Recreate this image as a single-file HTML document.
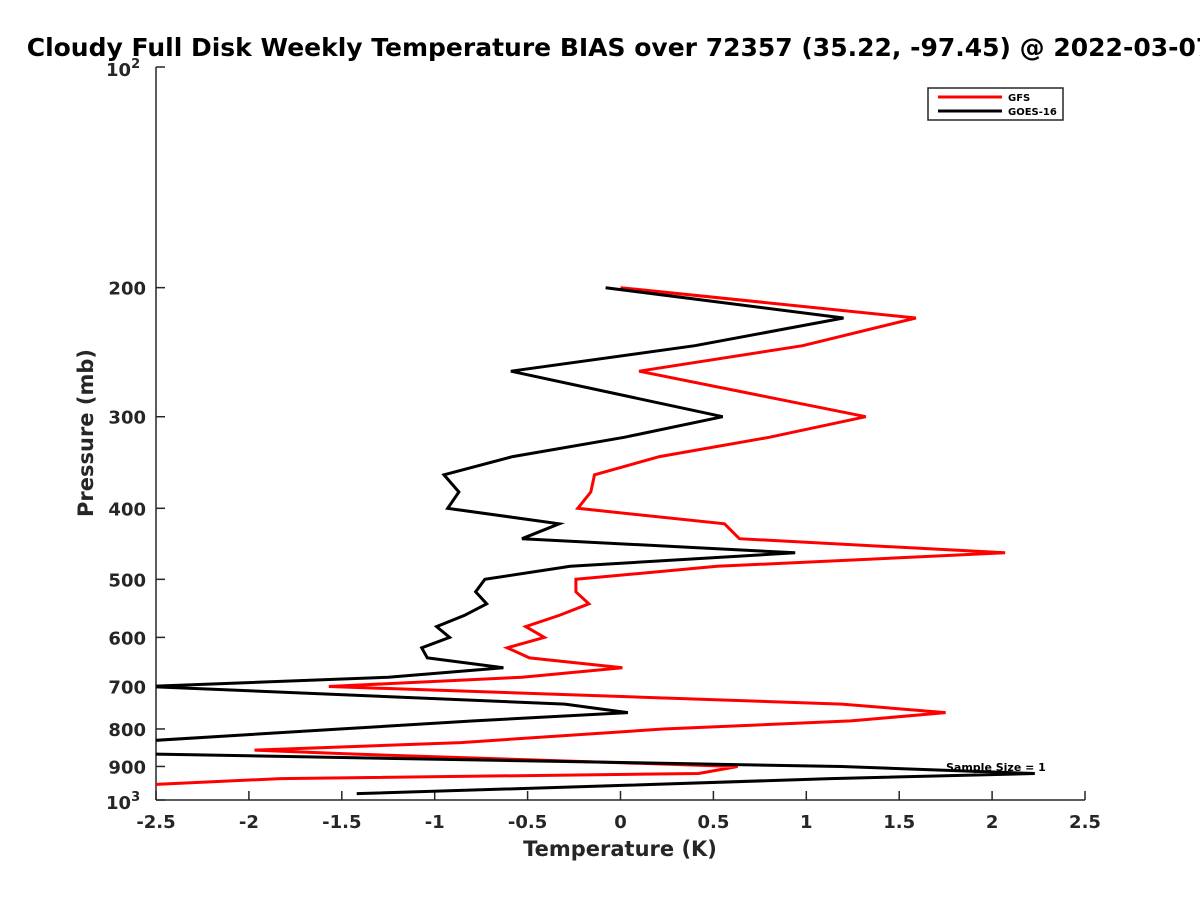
<!DOCTYPE html>
<html><head><meta charset="utf-8"><style>
body{margin:0;background:#fff;overflow:hidden;}
svg{display:block;font-family:"DejaVu Sans","Liberation Sans",sans-serif;}
</style></head><body>
<svg id="chart" width="1200" height="900" viewBox="0 0 1200 900">
<defs><clipPath id="pc"><rect x="156" y="60" width="929" height="740"/></clipPath></defs>
<text x="620" y="56" text-anchor="middle" font-size="25" font-weight="bold">Cloudy Full Disk Weekly Temperature BIAS over 72357 (35.22, -97.45) @ 2022-03-07</text>
<g id="axes"></g>
<g id="series" clip-path="url(#pc)"></g>
<text x="620" y="856" text-anchor="middle" font-size="21" font-weight="bold" fill="#262626">Temperature (K)</text>
<text transform="translate(93,433) rotate(-90)" text-anchor="middle" font-size="21" font-weight="bold" fill="#262626">Pressure (mb)</text>
<g>
<rect x="928" y="88" width="135" height="32" fill="#fff" stroke="#262626" stroke-width="1.5"/>
<line x1="938" y1="97" x2="1002" y2="97" stroke="#ff0000" stroke-width="3"/>
<text x="1008" y="101" font-size="10" font-weight="bold">GFS</text>
<line x1="938" y1="111" x2="1002" y2="111" stroke="#000" stroke-width="3"/>
<text x="1008" y="115" font-size="10" font-weight="bold">GOES-16</text>
</g>
<text x="946" y="771" font-size="11" font-weight="bold">Sample Size = 1</text>
</svg>
<script>
const pressures=[200,220,240,260,300,320,340,360,380,400,420,440,460,480,500,520,540,560,580,600,620,640,660,680,700,740,760,780,800,835,855,865,900,920,935,955,980];
const gfsBias=[0.0,1.59,0.98,0.10,1.32,0.80,0.21,-0.14,-0.16,-0.23,0.56,0.64,2.07,0.52,-0.24,-0.24,-0.17,-0.33,-0.51,-0.41,-0.61,-0.49,0.01,-0.53,-1.57,1.19,1.75,1.24,0.23,-0.86,-1.97,-1.48,0.63,0.42,-1.83,-2.6,null];
const goesBias=[-0.08,1.20,0.40,-0.59,0.55,0.02,-0.58,-0.95,-0.87,-0.93,-0.33,-0.53,0.94,-0.27,-0.73,-0.78,-0.72,-0.84,-0.99,-0.92,-1.07,-1.04,-0.63,-1.25,-2.55,-0.30,0.04,-0.79,-1.51,-2.7,-2.9,-2.6,1.19,2.23,1.13,0.03,-1.42];
const xTicks=[-2.5,-2,-1.5,-1,-0.5,0,0.5,1,1.5,2,2.5];
const xTickLabels=["-2.5","-2","-1.5","-1","-0.5","0","0.5","1","1.5","2","2.5"];
const yTicks=[200,300,400,500,600,700,800,900];
const yTickLabels=["200","300","400","500","600","700","800","900"];

const NS="http://www.w3.org/2000/svg";
const X0=156,X1=1085,Y0=67,Y1=800;
function xs(v){return X0+(v-(-2.5))/5*(X1-X0);}
function ys(p){return Y0+(Math.log10(p)-2)*(Y1-Y0);}
function mk(tag,attrs,parent){const e=document.createElementNS(NS,tag);for(const k in attrs)e.setAttribute(k,attrs[k]);parent.appendChild(e);return e;}
const axes=document.getElementById('axes');
const C="#262626";
let l=mk('line',{x1:X0,y1:Y0,x2:X0,y2:Y1,stroke:C,'stroke-width':1.5},axes);


l=mk('line',{x1:X0,y1:Y1,x2:X1,y2:Y1,stroke:C,'stroke-width':1.5},axes);


xTicks.forEach((v,i)=>{
  const t=mk('line',{x1:xs(v),y1:Y1,x2:xs(v),y2:Y1-9,stroke:C,'stroke-width':1.5},axes);
  
  
  const tx=mk('text',{x:xs(v),y:Y1+28,'text-anchor':'middle','font-size':18,'font-weight':'bold',fill:C},axes);
  tx.textContent=xTickLabels[i];
  
  
});
[100].concat(yTicks).concat([1000]).forEach(p=>{
  const t=mk('line',{x1:X0,y1:ys(p),x2:X0+9,y2:ys(p),stroke:C,'stroke-width':1.5},axes);
  
  
});
yTicks.forEach((p,i)=>{
  const tx=mk('text',{x:146,y:ys(p)+7,'text-anchor':'end','font-size':18,'font-weight':'bold',fill:C},axes);
  tx.textContent=yTickLabels[i];
  
  
});
[[100,"2"],[1000,"3"]].forEach(([p,e])=>{
  const tx=mk('text',{x:106,y:ys(p)+9,'font-size':18,'font-weight':'bold',fill:C},axes);
  tx.textContent="10";
  
  
  const sp=mk('tspan',{dy:-8,'font-size':13},tx);
  sp.textContent=e;
});
const sg=document.getElementById('series');
function draw(vals,color,name){
  const pts=[];
  vals.forEach((v,i)=>{if(v!==null)pts.push(xs(v).toFixed(1)+','+ys(pressures[i]).toFixed(1));});
  const pl=mk('polyline',{points:pts.join(' '),fill:'none',stroke:color,'stroke-width':3,'stroke-linejoin':'miter'},sg);
  
  
}
draw(gfsBias,'#ff0000','gfs-bias-line');
draw(goesBias,'#000000','goes16-bias-line');
</script>
</body></html>
